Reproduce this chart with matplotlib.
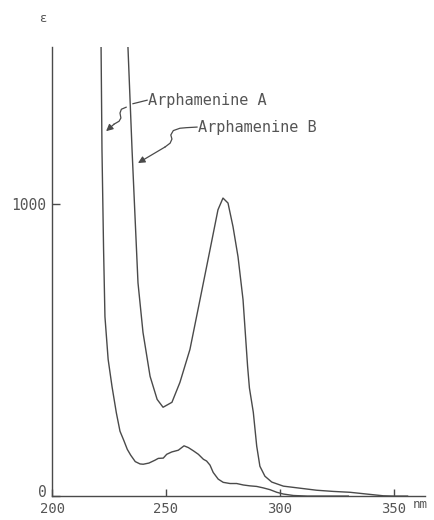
import numpy as np
import matplotlib.pyplot as plt
from matplotlib.transforms import ScaledTranslation

# UV absorption spectra (wavelength in nm, molar absorptivity epsilon)
wl_a = [221.5, 221.9, 222.6, 223.2, 224.6, 226.3, 228.2, 229.8, 231.5, 233.0,
        234.5, 236.5, 238.6, 240.0, 242.5, 245.2, 246.6, 248.8, 250.3, 252.5,
        255.4, 257.9, 259.8, 262.0, 264.2, 266.4, 267.8, 269.3, 270.7, 272.9,
        275.1, 278.1, 281.0, 283.9, 286.8, 289.8, 292.7, 295.6, 298.6, 301.5,
        305.9, 312.0, 330.0]
eps_a = [1536, 1184, 843, 614, 468, 375, 285, 222, 190, 160,
         140, 118, 110, 109, 113, 123, 129, 130, 143, 151,
         157, 172, 166, 155, 143, 126, 120, 106, 81, 58,
         47, 43, 43, 38, 35, 33, 28, 22, 13, 7,
         2, 0, 0]

wl_b = [233.3, 235.1, 236.4, 237.7, 239.9, 243.0, 246.1, 248.7, 252.6, 256.1,
        260.5, 264.9, 269.3, 272.8, 275.0, 277.2, 279.4, 281.6, 283.8, 285.8,
        286.6, 288.3, 289.8, 291.2, 293.4, 296.4, 301.5, 308.8, 316.1, 323.3,
        330.7, 338.0, 345.3, 350.0, 356.0]
eps_b = [1536, 1184, 956, 730, 560, 410, 331, 304, 321, 389,
         502, 672, 843, 980, 1020, 1003, 922, 819, 672, 444,
         370, 287, 171, 102, 68, 48, 34, 27, 20, 16,
         13, 7, 1, 0, 0]

x_ticks = [200, 250, 300, 350]
y_ticks = [0, 1000]

ink = "#4a4a4a"
txt = "#555555"
font = "DejaVu Sans Mono"

fig = plt.figure(figsize=(4.34, 5.2), dpi=100)
ax = fig.add_axes([0.120, 0.046, 0.859, 0.863])

ax.plot(wl_a, eps_a, color=ink, lw=1.0)
ax.plot(wl_b, eps_b, color=ink, lw=1.0)

ax.set_xlim(200, 363.6)
ax.set_ylim(0, 1536)
for side in ("top", "right"):
    ax.spines[side].set_visible(False)
for side in ("left", "bottom"):
    ax.spines[side].set_color(ink)
    ax.spines[side].set_linewidth(1.0)

ax.set_xticks(x_ticks)
ax.set_xticklabels([str(v) for v in x_ticks], family=font, fontsize=10, color=txt)
ax.set_yticks(y_ticks)
ax.set_yticklabels([str(v) for v in y_ticks], family=font, fontsize=10.5, color=txt)
ax.tick_params(axis="x", direction="in", length=5, width=1, color=ink, pad=4)
ax.tick_params(axis="y", direction="in", length=6, width=1, color=ink, pad=4)

# nudge the "0" label up a little so it clears "200"
zero_lbl = ax.get_yticklabels()[0]
zero_lbl.set_transform(zero_lbl.get_transform()
                       + ScaledTranslation(0, 4 / 72, fig.dpi_scale_trans))

ax.text(358.4, -6, "nm", family=font, fontsize=9, color=txt, va="top", ha="left")
fig.text(43 / 434, 1 - 18 / 520, "\u03b5", family="DejaVu Sans", fontsize=9.5,
         color=txt, ha="center", va="center")

# labels with wavy leader arrows
ax.text(242.2, 1355, "Arphamenine A", family=font, fontsize=11, color=txt, va="center")
ax.text(264.0, 1263, "Arphamenine B", family=font, fontsize=11, color=txt, va="center")
ax.plot([235.5, 241.7], [1343, 1355], color=ink, lw=0.9)

lead_a_x = [232.5, 230.4, 229.8, 230.2, 229.4, 227.2]
lead_a_y = [1331, 1324, 1311, 1294, 1283, 1273]
ax.plot(lead_a_x, lead_a_y, color=ink, lw=0.9)
ax.annotate("", xy=(223.7, 1249), xytext=(lead_a_x[-1], lead_a_y[-1]),
            arrowprops=dict(arrowstyle="-|>", color=ink, lw=0.9,
                            mutation_scale=10, shrinkA=0, shrinkB=0))

lead_b_x = [263.6, 259.0, 256.1, 253.2, 252.1, 252.6, 251.8, 249.6]
lead_b_y = [1263, 1261, 1259, 1251, 1236, 1222, 1208, 1195]
ax.plot(lead_b_x, lead_b_y, color=ink, lw=0.9)
ax.annotate("", xy=(237.7, 1140), xytext=(lead_b_x[-1], lead_b_y[-1]),
            arrowprops=dict(arrowstyle="-|>", color=ink, lw=0.9,
                            mutation_scale=10, shrinkA=0, shrinkB=0))

fig.savefig("out.png", dpi=100)
plt.close(fig)
